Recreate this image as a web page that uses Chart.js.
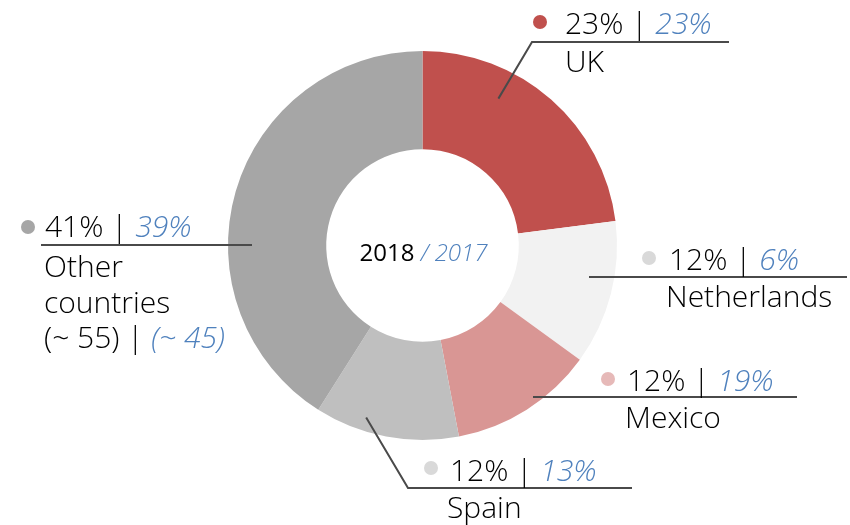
<!DOCTYPE html>
<html>
<head>
<meta charset="utf-8">
<script src="https://cdn.jsdelivr.net/npm/chart.js@4"></script>
<style>
  html, body { margin: 0; padding: 0; background: #fff; }
  #wrap { width: 850px; height: 525px; }
</style>
</head>
<body>
<div id="wrap"><canvas id="shareChart" width="850" height="525"></canvas></div>
<script>
// Data
const countries = ["UK", "Netherlands", "Mexico", "Spain", "Other countries"];
const share2018 = [23, 12, 12, 12, 41];
const share2017 = [23, 6, 19, 13, 39];
const otherCount2018 = 55;
const otherCount2017 = 45;
const yearNow = "2018";
const yearPrev = "2017";

const sliceColors = ["#c0504d", "#f2f2f2", "#d99694", "#bfbfbf", "#a6a6a6"];
const dotColors = ["#c0504d", "#d9d9d9", "#e6b9b8", "#d9d9d9", "#a6a6a6"];

// Label placement (pixels for text blocks, anchors relative to each arc)
const labelLayout = [
    { dot: [540, 22], tx: 565, ty: 34, ly: 42, lx1: 532, lx2: 729, anchor: [0.33, 0.85], names: [72] },
    { dot: [649, 258], tx: 669, ty: 270, ly: 277, lx1: 589, lx2: 847, anchor: null, names: [307], nx: 666 },
    { dot: [608, 379], tx: 627, ty: 391, ly: 397, lx1: 533, lx2: 797, anchor: null, names: [428], nx: 625 },
    { dot: [431, 468], tx: 450, ty: 481, ly: 488, lx1: 408, lx2: 632, anchor: [0.67, 0.93], names: [518], nx: 447 },
    { dot: [28, 227], tx: 45, ty: 237, ly: 245, lx1: 41, lx2: 252, anchor: null, names: [277, 313, 348], nx: 44 }
];

const FONT = "'Open Sans', 'Liberation Sans', sans-serif";
const LABEL_SIZE = 30;
const CENTER_SIZE = 24;
const BLUE = "#4f81bd";
const INK = "#000000";

function drawPair(ctx, x, y, a, b, size, weight) {
    ctx.font = `${weight || 300} ${size}px ${FONT}`;
    ctx.fillStyle = INK;
    ctx.fillText(a, x, y);
    const w = ctx.measureText(a).width;
    ctx.font = `italic 300 ${size}px ${FONT}`;
    ctx.fillStyle = BLUE;
    ctx.fillText(b, x + w, y);
}

const labelPlugin = {
    id: "calloutLabels",
    afterDraw(chart) {
        const ctx = chart.ctx;
        const arcs = chart.getDatasetMeta(0).data;
        ctx.save();
        ctx.textBaseline = "alphabetic";
        ctx.textAlign = "left";

        countries.forEach((name, i) => {
            const L = labelLayout[i];
            const arc = arcs[i];

            // leader line
            ctx.strokeStyle = "#4a4a4a";
            ctx.lineWidth = 2;
            ctx.beginPath();
            if (L.anchor) {
                const ang = arc.startAngle + (arc.endAngle - arc.startAngle) * L.anchor[0];
                const r = arc.outerRadius * L.anchor[1];
                ctx.moveTo(arc.x + Math.cos(ang) * r, arc.y + Math.sin(ang) * r);
                ctx.lineTo(L.lx1, L.ly);
            } else {
                ctx.moveTo(L.lx1, L.ly);
            }
            ctx.lineTo(L.lx2, L.ly);
            ctx.stroke();

            // dot
            ctx.fillStyle = dotColors[i];
            ctx.beginPath();
            ctx.arc(L.dot[0], L.dot[1], 7, 0, Math.PI * 2);
            ctx.fill();

            // values
            drawPair(ctx, L.tx, L.ty, `${share2018[i]}% | `, `${share2017[i]}%`, LABEL_SIZE);

            // name lines
            const nx = L.nx || L.tx;
            ctx.font = `300 ${LABEL_SIZE}px ${FONT}`;
            ctx.fillStyle = INK;
            if (i === countries.length - 1) {
                ctx.fillText("Other", nx, L.names[0]);
                ctx.fillText("countries", nx, L.names[1]);
                drawPair(ctx, nx, L.names[2], `(~ ${otherCount2018}) | `, `(~ ${otherCount2017})`, LABEL_SIZE);
            } else {
                ctx.fillText(name, nx, L.names[0]);
            }
        });

        // center text
        const c = arcs[0];
        ctx.font = `400 ${CENTER_SIZE}px ${FONT}`;
        const a = yearNow + " ";
        const wa = ctx.measureText(a).width;
        ctx.font = `italic 300 ${CENTER_SIZE}px ${FONT}`;
        const b = "/ " + yearPrev;
        const wb = ctx.measureText(b).width;
        drawPair(ctx, c.x - (wa + wb) / 2 + 1, c.y + 15.5, a, b, CENTER_SIZE, 400);
        ctx.restore();
    }
};

function build() {
    const ctx = document.getElementById("shareChart").getContext("2d");
    new Chart(ctx, {
        type: "doughnut",
        data: {
            labels: countries,
            datasets: [{
                data: share2018,
                backgroundColor: sliceColors,
                borderWidth: 0
            }]
        },
        options: {
            responsive: false,
            animation: false,
            cutout: "49.5%",
            layout: {
                padding: { top: 51, bottom: 85, left: 228, right: 233 }
            },
            plugins: {
                legend: { display: false },
                tooltip: { enabled: false }
            }
        },
        plugins: [labelPlugin]
    });
}

document.addEventListener("DOMContentLoaded", () => {
    if (document.fonts && document.fonts.load) {
        Promise.all([
            document.fonts.load(`300 ${LABEL_SIZE}px "Open Sans"`),
            document.fonts.load(`italic 300 ${LABEL_SIZE}px "Open Sans"`),
            document.fonts.load(`400 ${CENTER_SIZE}px "Open Sans"`)
        ]).then(build, build);
    } else {
        build();
    }
});
</script>
</body>
</html>
